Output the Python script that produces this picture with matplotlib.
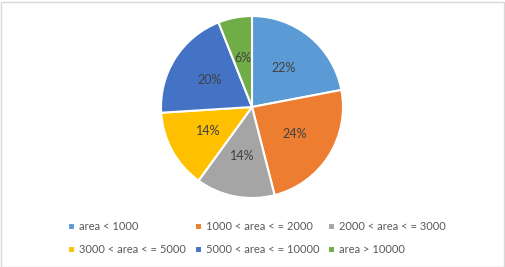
import matplotlib.pyplot as plt
from matplotlib.patches import Rectangle

# slice data, clockwise from 12 o'clock
labels = ['area < 1000', '1000 < area < = 2000', '2000 < area < = 3000',
          '3000 < area < = 5000', '5000 < area < = 10000', 'area > 10000']
shares = [22, 24, 14, 14, 20, 6]
colors = ['#5B9BD5', '#ED7D31', '#A5A5A5', '#FFC000', '#4472C4', '#70AD47']

plt.rcParams['font.family'] = ['Lato', 'DejaVu Sans']

W, H = 505, 267
fig = plt.figure(figsize=(W / 100, H / 100), dpi=100)

# pie axes: center (252, 107) px from top, radius ~91 px
cx, cy, r = 252, 107, 91
ax = fig.add_axes([(cx - r) / W, (H - cy - r) / H, 2 * r / W, 2 * r / H])
wedges, texts, autotexts = ax.pie(
    shares, colors=colors, startangle=90, counterclock=False,
    autopct='%d%%', pctdistance=0.55,
    wedgeprops=dict(edgecolor='white', linewidth=1.5),
    textprops=dict(color='#404040', fontsize=9))
ax.set_aspect('equal')
ax.set_xlim(-1, 1)
ax.set_ylim(-1, 1)

# legend fills column by column, so reorder to read row by row
order = [0, 3, 1, 4, 2, 5]
fig.legend([wedges[i] for i in order], [labels[i] for i in order],
           loc='upper left', bbox_to_anchor=(58 / W, 1 - 211 / H),
           ncol=3, frameon=False, fontsize=8, labelcolor='#595959',
           handlelength=0.6, handleheight=0.6, handletextpad=0.4,
           columnspacing=0.8, labelspacing=1.1)

# thin chart border
fig.patches.append(Rectangle((0.5 / W, 0.5 / H), 1 - 2 / W, 1 - 2 / H,
                             transform=fig.transFigure, fill=False,
                             edgecolor='#D9D9D9', linewidth=1))

fig.savefig('out.png', dpi=100)
